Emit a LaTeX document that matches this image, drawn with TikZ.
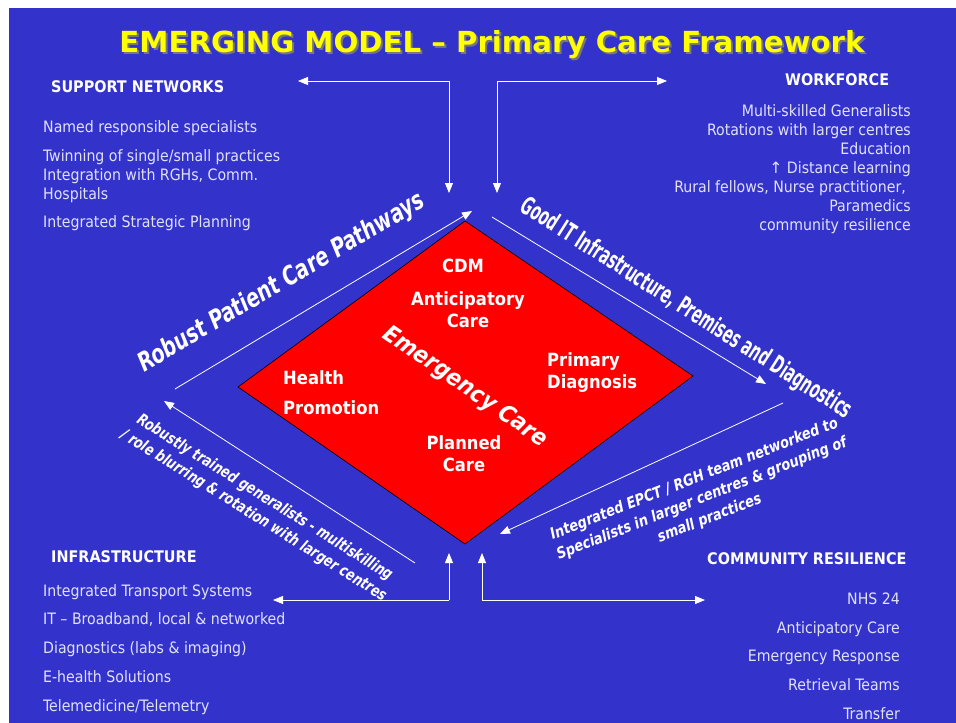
\documentclass[tikz,border=0pt]{standalone}
\usepackage{fontspec}
\setmainfont{DejaVu Sans Condensed}
\newfontfamily\arrowfont{DejaVu Sans}
\usetikzlibrary{arrows.meta}
\definecolor{bg}{RGB}{51,51,204}
\definecolor{txt}{RGB}{225,225,250}
\definecolor{ttl}{RGB}{255,255,0}
\definecolor{shd}{RGB}{120,120,120}
\begin{document}
\begin{tikzpicture}[x=1pt,y=-1pt,
  item/.style={font=\fontsize{15.7}{18}\selectfont, text=txt, inner sep=0pt, text height=11pt, text depth=3pt},
  head/.style={font=\bfseries\fontsize{16}{18}\selectfont, text=white, inner sep=0pt, text height=11pt, text depth=0pt},
  dia/.style={font=\bfseries\fontsize{18.2}{22}\selectfont, text=white, inner sep=0pt, align=center},
  conn/.style={draw=white, line width=0.8pt},
  arr/.style={conn, -{Triangle[length=10pt,width=8pt]}},
  slab/.style={text=white, inner sep=0pt, align=center},
  ttlstyle/.style={font=\bfseries\fontsize{29}{34}\selectfont, inner sep=0pt}
]
\useasboundingbox (0,0) rectangle (956,723);
\fill[white] (0,0) rectangle (956,723);
\fill[bg] (9,8) rectangle (956,723);

% title with shadow
\node[ttlstyle, text=shd] (titleshadow) at (494,47) {\scalebox{1.12}[1]{EMERGING MODEL -- Primary Care Framework}};
\node[ttlstyle, text=ttl] (title) at (492,45) {\scalebox{1.12}[1]{EMERGING MODEL -- Primary Care Framework}};

% diamond
\coordinate (dt) at (465,221);
\coordinate (dr) at (693,376);
\coordinate (db) at (465,544);
\coordinate (dl) at (238,387);
\draw[fill=red, draw=black, line width=0.6pt] (dt) -- (dr) -- (db) -- (dl) -- cycle;

\node[dia] (cdm) at (463,266) {CDM};
\node[dia] (antic) at (468,310) {Anticipatory\\Care};
\node[dia, align=left, anchor=west] (health) at (283,393) {Health\\[8pt]Promotion};
\node[dia, align=left, anchor=west] (primary) at (547,373) {Primary\\Diagnosis};
\node[dia] (planned) at (464,454) {Planned\\Care};
\node[slab, font=\bfseries\itshape\fontsize{23.5}{28}\selectfont, rotate=-34.6] (emerg) at (465,387) {Emergency Care};

% diagonal connectors
\coordinate (a1s) at (175,389); \coordinate (a1e) at (472,211);
\coordinate (a2s) at (492,217); \coordinate (a2e) at (766,384);
\coordinate (a3s) at (783,403); \coordinate (a3e) at (500,534);
\coordinate (a4s) at (415,563); \coordinate (a4e) at (164,401);
\draw[arr] (a1s) -- (a1e);
\draw[arr] (a2s) -- (a2e);
\draw[arr] (a3s) -- (a3e);
\draw[arr] (a4s) -- (a4e);

% elbow connectors
\coordinate (tlc) at (449,81); \coordinate (tlh) at (298,81); \coordinate (tlv) at (449,193);
\coordinate (trc) at (497,81); \coordinate (trh) at (667,81); \coordinate (trv) at (497,193);
\coordinate (blc) at (449,600); \coordinate (blh) at (273,600); \coordinate (blv) at (449,553);
\coordinate (brc) at (482,600); \coordinate (brh) at (705,600); \coordinate (brv) at (482,553);
\draw[arr] (tlc) -- (tlh); \draw[arr] (tlc) -- (tlv);
\draw[arr] (trc) -- (trh); \draw[arr] (trc) -- (trv);
\draw[arr] (blc) -- (blh); \draw[arr] (blc) -- (blv);
\draw[arr] (brc) -- (brh); \draw[arr] (brc) -- (brv);

% rotated labels
\node[slab, font=\bfseries\itshape\fontsize{26}{30}\selectfont, rotate=30.6] (robust) at (282,283) {\scalebox{0.83}[1]{Robust Patient Care Pathways}};
\node[slab, font=\bfseries\fontsize{25}{30}\selectfont, rotate=-32.5] (goodit) at (686,309) {\scalebox{0.62}[1]{Good IT Infrastructure, Premises and Diagnostics}};
\node[slab, font=\bfseries\itshape\fontsize{16}{21}\selectfont, rotate=-32] (trained) at (259,507) {\scalebox{0.86}[1]{\begin{tabular}{@{}c@{}}Robustly trained generalists - multiskilling\\/ role blurring \& rotation with larger centres\end{tabular}}};
\node[slab, font=\bfseries\itshape\fontsize{15.5}{21}\selectfont, rotate=21.5] (epct) at (702,499) {\scalebox{0.93}[1]{\begin{tabular}{@{}c@{}}Integrated EPCT / RGH team networked to\\Specialists in larger centres \& grouping of\\small practices\end{tabular}}};

% support networks
\node[head, anchor=west] (sn) at (51,87) {SUPPORT NETWORKS};
\node[item, anchor=west] (sn1) at (43,128) {Named responsible specialists};
\node[item, anchor=west] (sn2) at (43,157) {Twinning of single/small practices};
\node[item, anchor=west] (sn3) at (43,176) {Integration with RGHs, Comm.};
\node[item, anchor=west] (sn4) at (43,195) {Hospitals};
\node[item, anchor=west] (sn5) at (43,223) {Integrated Strategic Planning};

% workforce
\node[head, anchor=west] (wf) at (785,80) {WORKFORCE};
\node[item, anchor=east] (wf1) at (911,112) {Multi-skilled Generalists};
\node[item, anchor=east] (wf2) at (911,131) {Rotations with larger centres};
\node[item, anchor=east] (wf3) at (911,150) {Education};
\node[item, anchor=east] (wf4) at (911,169) {{\arrowfont↑} Distance learning};
\node[item, anchor=east] (wf5) at (906,188) {Rural fellows, Nurse practitioner,};
\node[item, anchor=east] (wf6) at (911,207) {Paramedics};
\node[item, anchor=east] (wf7) at (911,226) {community resilience};

% infrastructure
\node[head, anchor=west] (inf) at (51,557) {INFRASTRUCTURE};
\node[item, anchor=west] (inf1) at (43,592) {Integrated Transport Systems};
\node[item, anchor=west] (inf2) at (43,620) {IT -- Broadband, local \& networked};
\node[item, anchor=west] (inf3) at (43,649) {Diagnostics (labs \& imaging)};
\node[item, anchor=west] (inf4) at (43,678) {E-health Solutions};
\node[item, anchor=west] (inf5) at (43,707) {Telemedicine/Telemetry};

% community resilience
\node[head, anchor=west] (cr) at (707,559) {COMMUNITY RESILIENCE};
\node[item, anchor=east] (cr1) at (900,600) {NHS 24};
\node[item, anchor=east] (cr2) at (900,629) {Anticipatory Care};
\node[item, anchor=east] (cr3) at (900,657) {Emergency Response};
\node[item, anchor=east] (cr4) at (900,686) {Retrieval Teams};
\node[item, anchor=east] (cr5) at (900,715) {Transfer};
\end{tikzpicture}
\end{document}
